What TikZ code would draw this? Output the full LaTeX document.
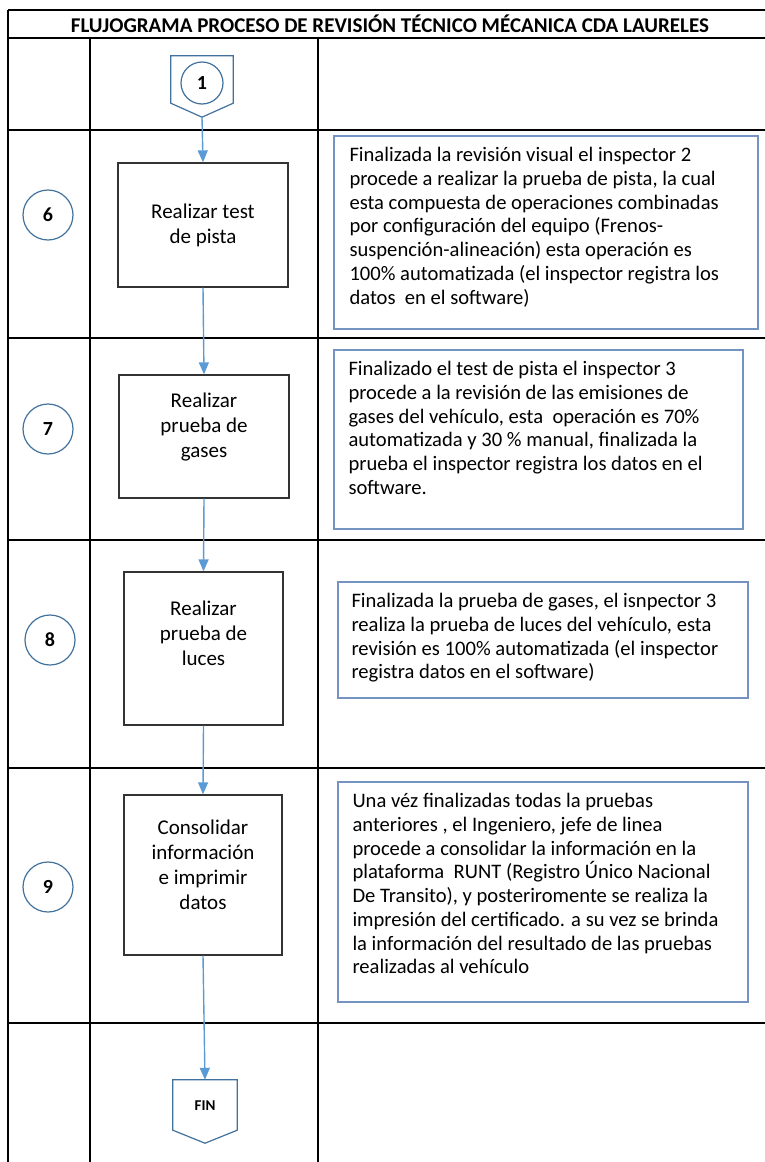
\documentclass[tikz,border=0pt]{standalone}
\usepackage{fontspec}
\setmainfont{Carlito}
\usetikzlibrary{arrows.meta,positioning,calc}

\definecolor{flechaazul}{HTML}{5B9BD5}
\definecolor{bordeazul}{HTML}{41719C}
\definecolor{notaazul}{HTML}{7393C0}

\begin{document}
\begin{tikzpicture}[
    x=1pt,
    y=-1pt,
    tabla/.style={
        line width=2.4pt,
        black
    },
    titulo/.style={
        font=\fontsize{21}{23}\selectfont\bfseries
    },
    numero/.style={
        circle,
        draw=bordeazul,
        line width=1.2pt,
        minimum size=50,
        inner sep=0pt,
        font=\fontsize{20}{22}\selectfont\bfseries
    },
    proceso/.style={
        rectangle,
        draw=black!80,
        line width=1.3pt,
        fill=white
    },
    textoproc/.style={
        align=center,
        inner sep=0pt,
        font=\fontsize{21}{25}\selectfont
    },
    nota/.style={
        rectangle,
        draw=notaazul,
        line width=1.4pt
    },
    textonota/.style={
        anchor=north west,
        align=left,
        inner sep=0pt,
        font=\fontsize{20.6}{23.7}\selectfont
    },
    conector/.style={
        rectangle,
        inner sep=0pt
    },
    bordeconector/.style={
        draw=bordeazul,
        line width=1.2pt,
        fill=white,
        line join=miter
    },
    flecha/.style={
        -{Triangle[length=12pt,width=10pt]},
        flechaazul,
        line width=1.4pt
    }
]
\useasboundingbox (0,0) rectangle (764,1162);

% --- Table grid ---
\draw[tabla] (8,10) -- (780,10);
\draw[tabla] (8,38) -- (780,38);
\draw[tabla] (8,130) -- (780,130);
\draw[tabla] (8,338) -- (780,338);
\draw[tabla] (8,540) -- (780,540);
\draw[tabla] (8,768) -- (780,768);
\draw[tabla] (8,1023) -- (780,1023);
\draw[tabla] (8,10) -- (8,1170);
\draw[tabla] (90,38) -- (90,1170);
\draw[tabla] (318,38) -- (318,1170);

\node[titulo] (title) at (390,24) {FLUJOGRAMA PROCESO DE REVISIÓN TÉCNICO MÉCANICA CDA LAURELES};

% --- Start connector (off-page) ---
\node[conector, minimum width=62, minimum height=47] (ini) at (202,79.5) {};
\coordinate (ini-punta) at ($(ini.south)+(0,14)$);
\draw[bordeconector] (ini.north west) -- (ini.south west) -- (ini-punta)
    -- (ini.south east) -- (ini.north east) -- cycle;
\node[numero, minimum size=42] (uno) at (202,83) {1};

% --- Step 6 ---
\node[numero] (n6) at (48,215) {6};
\node[proceso, minimum width=170, minimum height=124] (p6) at (203,225) {};
\node[textoproc] (tp6) at (p6.center) {Realizar test\\de pista};
\node[nota, minimum width=424, minimum height=193] (d6) at (546,232.5) {};
\node[textonota] (td6) at ($(d6.north west)+(16,12)$) {Finalizada la revisión visual el inspector 2\\
procede a realizar la prueba de pista, la cual\\
esta compuesta de operaciones combinadas\\
por configuración del equipo (Frenos-\\
suspención-alineación) esta operación es\\
100\% automatizada (el inspector registra los\\
datos\ \ en el software)};

% --- Step 7 ---
\node[numero] (n7) at (48,429) {7};
\node[proceso, minimum width=170, minimum height=123] (p7) at (204,436.5) {};
\node[textoproc] (tp7) at ($(p7.center)+(0,-9)$) {Realizar\\prueba de\\gases};
\node[nota, minimum width=409, minimum height=179] (d7) at (538.5,439.5) {};
\node[textonota] (td7) at ($(d7.north west)+(15,12)$) {Finalizado el test de pista el inspector 3\\
procede a la revisión de las emisiones de\\
gases del vehículo, esta\ \ operación es 70\%\\
automatizada y 30 \% manual, finalizada la\\
prueba el inspector registra los datos en el\\
software.};

% --- Step 8 ---
\node[numero] (n8) at (50,640) {8};
\node[proceso, minimum width=159, minimum height=153] (p8) at (203.5,648.5) {};
\node[textoproc] (tp8) at ($(p8.center)+(0,-15)$) {Realizar\\prueba de\\luces};
\node[nota, minimum width=410, minimum height=116] (d8) at (543,640) {};
\node[textonota] (td8) at ($(d8.north west)+(14,12)$) {Finalizada la prueba de gases, el isnpector 3\\
realiza la prueba de luces del vehículo, esta\\
revisión es 100\% automatizada (el inspector\\
registra datos en el software)};

% --- Step 9 ---
\node[numero] (n9) at (48,887) {9};
\node[proceso, minimum width=158, minimum height=160] (p9) at (203,875) {};
\node[textoproc] (tp9) at ($(p9.center)+(0,-10)$) {Consolidar\\información\\e imprimir\\datos};
\node[nota, minimum width=410, minimum height=220] (d9) at (543,892) {};
\node[textonota] (td9) at ($(d9.north west)+(15,12)$) {Una véz finalizadas todas la pruebas\\
anteriores , el Ingeniero, jefe de linea\\
procede a consolidar la información en la\\
plataforma\ \ RUNT (Registro Único Nacional\\
De Transito), y posteriromente se realiza la\\
impresión del certificado. a su vez se brinda\\
la información del resultado de las pruebas\\
realizadas al vehículo};

% --- End connector (off-page) ---
\node[conector, minimum width=64, minimum height=50] (fin) at (205,1105) {};
\coordinate (fin-punta) at ($(fin.south)+(0,13)$);
\draw[bordeconector] (fin.north west) -- (fin.south west) -- (fin-punta)
    -- (fin.south east) -- (fin.north east) -- cycle;
\node[font=\fontsize{15}{17}\selectfont\bfseries] (tfin) at (205,1106) {FIN};

% --- Flow arrows ---
\draw[flecha] (ini-punta) -- (p6.north);
\draw[flecha] (p6.south) -- (p7.north);
\draw[flecha] (p7.south) -- (p8.north);
\draw[flecha] (p8.south) -- (p9.north);
\draw[flecha] (p9.south) -- (fin.north);

\end{tikzpicture}
\end{document}
